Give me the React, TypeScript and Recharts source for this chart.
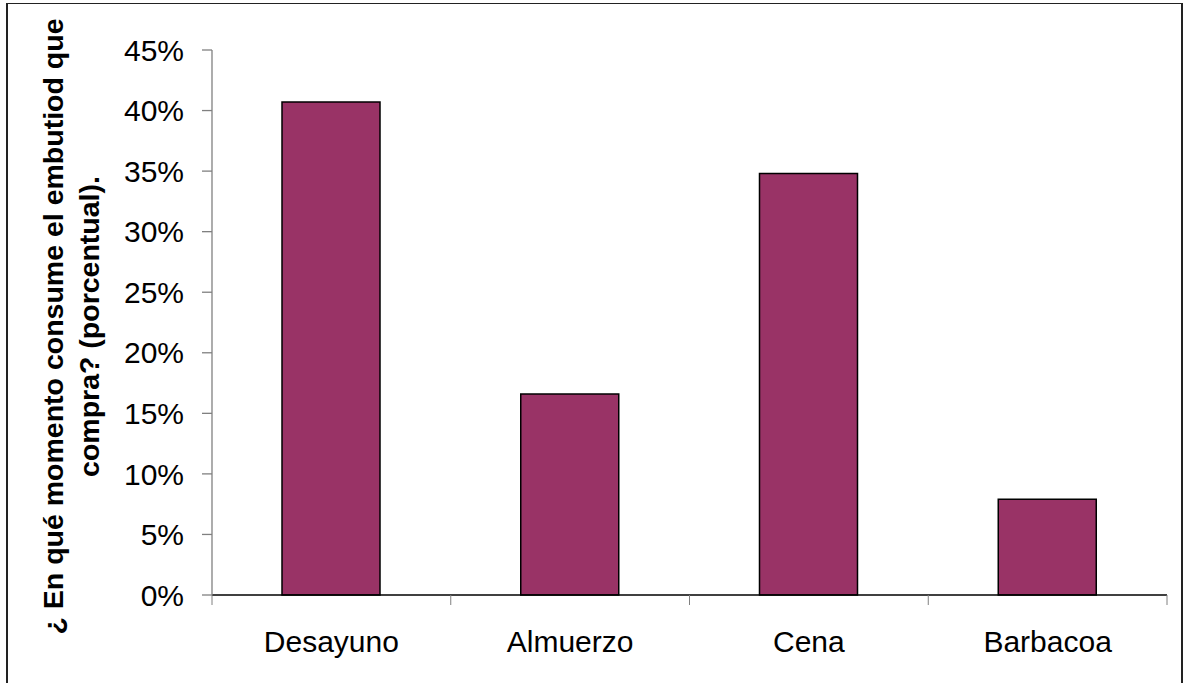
import React from "react";
import { BarChart, Bar, XAxis, YAxis } from "recharts";

const categories = ["Desayuno", "Almuerzo", "Cena", "Barbacoa"];
const values = [0.407, 0.166, 0.348, 0.079];
const yTicks = [0, 0.05, 0.1, 0.15, 0.2, 0.25, 0.3, 0.35, 0.4, 0.45];
const titleLines = ["¿ En qué momento consume el embutiod que", "compra? (porcentual)."];

const data = categories.map((c, i) => ({ name: c, value: values[i] }));

const FONT = "'Liberation Sans', Arial, sans-serif";

const XTick = (props: any) => {
  const { x, y, payload, index } = props;
  const off = payload.offset || 0;
  const last = index === categories.length - 1;
  return (
    <g>
      <line x1={x - off} y1={y} x2={x - off} y2={y + 10} stroke="#808080" strokeWidth={1} />
      {last && <line x1={x + off} y1={y} x2={x + off} y2={y + 10} stroke="#808080" strokeWidth={1} />}
      <text x={x} y={y + 57} textAnchor="middle" fontFamily={FONT} fontSize={30} fill="#000">
        {payload.value}
      </text>
    </g>
  );
};

const YTitle = (props: any) => {
  const vb = props.viewBox || { x: 0, y: 50, width: 212, height: 545 };
  const cy = vb.y + vb.height / 2 + 4;
  const xs = [63, 99];
  return (
    <g>
      {titleLines.map((t, i) => (
        <text
          key={i}
          x={xs[i]}
          y={cy}
          transform={`rotate(-90, ${xs[i]}, ${cy})`}
          textAnchor="middle"
          fontFamily={FONT}
          fontWeight="bold"
          fontSize={28.5}
          fill="#000"
        >
          {t}
        </text>
      ))}
    </g>
  );
};

export default function App() {
  return (
    <div style={{ position: "absolute", left: 0, top: 0, width: 1186, height: 683, background: "#fff", overflow: "hidden" }}>
      <div
        style={{
          position: "absolute",
          left: 6,
          top: 3,
          width: 1177,
          height: 720,
          borderLeft: "2px solid #222",
          borderRight: "2px solid #222",
          borderTop: "1.5px solid #222",
          boxSizing: "border-box",
        }}
      />
      <div style={{ position: "absolute", left: 0, top: 0 }}>
        <BarChart width={1186} height={683} data={data} margin={{ top: 50, right: 19, bottom: 0, left: 0 }}>
          <XAxis
            dataKey="name"
            type="category"
            height={88}
            axisLine={{ stroke: "#000", strokeWidth: 1.3 }}
            tickLine={false}
            tickSize={0}
            tickMargin={0}
            tick={<XTick />}
            interval={0}
          />
          <YAxis
            width={212}
            domain={[0, 0.45]}
            ticks={yTicks}
            interval={0}
            tickFormatter={(v: number) => `${Math.round(v * 100)}%`}
            axisLine={{ stroke: "#808080", strokeWidth: 1.3 }}
            tickLine={{ stroke: "#808080", strokeWidth: 1.3 }}
            tickSize={10}
            tickMargin={18}
            tick={{ fontFamily: FONT, fontSize: 30, fill: "#000" }}
            label={<YTitle />}
          />
          <Bar dataKey="value" fill="#993366" stroke="#000" strokeWidth={1.5} barSize={98} isAnimationActive={false} />
        </BarChart>
      </div>
    </div>
  );
}
